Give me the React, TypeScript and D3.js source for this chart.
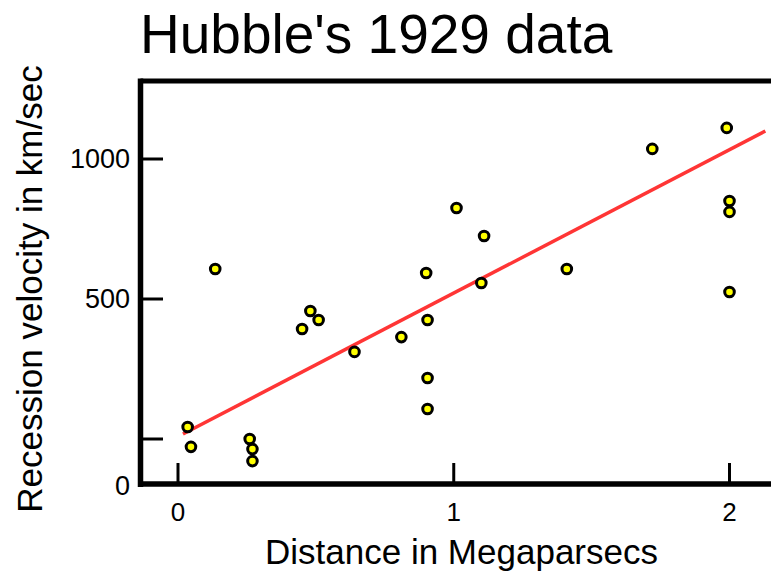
import * as d3 from "d3";

// Hubble's 1929 data
const distances = [
  0.035, 0.047, 0.135, 0.26, 0.27, 0.27, 0.45, 0.48, 0.51, 0.64, 0.81, 0.9,
  0.905, 0.905, 0.905, 1.01, 1.11, 1.1, 1.41, 1.72, 1.99, 2.0, 2.0, 2.0,
];
const velocities = [
  43, -28, 607, 0, -36, -79, 393, 457, 425, 311, 364, 593, 425, 218, 107, 825,
  725, 557, 607, 1036, 1111, 850, 811, 525,
];

// least squares line, drawn as the two end points
const fitX = [0.018, 2.13];
const fitY = [18, 1100];

const yTickValues = [0, 500, 1000];
const yTickLabels = ["", "500", "1000"];
const xTickValues = [0, 1, 2];

const width = 771;
const height = 572;
const left = 140.5;
const top = 81;
const bottom = 484;
const font = "'Liberation Sans', Arial, sans-serif";

const App = () => {
  const x = d3.scaleLinear().domain([0, 2]).range([178, 729.5]);
  const y = d3.scaleLinear().domain([0, 1000]).range([439, 159]);

  const line = d3
    .line<number>()
    .x((d) => x(d))
    .y((d, i) => y(fitY[i]));

  return (
    <div style={{ position: "absolute", left: 0, top: 0 }}>
      <svg width={width} height={height} style={{ display: "block", background: "#fff" }}>
        <text x={140} y={53} fontFamily={font} fontSize={55} fill="#000">
          Hubble's 1929 data
        </text>

        {/* frame */}
        <line x1={left} x2={width} y1={top} y2={top} stroke="#000" strokeWidth={5} />
        <line x1={left} x2={left} y1={top - 2.5} y2={bottom + 3} stroke="#000" strokeWidth={5.5} />
        <line x1={left - 2.5} x2={width} y1={bottom} y2={bottom} stroke="#000" strokeWidth={5.5} />

        {/* y ticks */}
        {yTickValues.map((v, i) => (
          <g key={"y" + v}>
            <line x1={left} x2={163} y1={y(v)} y2={y(v)} stroke="#000" strokeWidth={3} />
            <text
              x={130}
              y={y(v)}
              dy="0.35em"
              textAnchor="end"
              fontFamily={font}
              fontSize={27}
            >
              {yTickLabels[i]}
            </text>
          </g>
        ))}
        <text x={130} y={bottom + 2} dy="0.35em" textAnchor="end" fontFamily={font} fontSize={27}>
          0
        </text>

        {/* x ticks */}
        {xTickValues.map((v) => (
          <g key={"x" + v}>
            <line x1={x(v)} x2={x(v)} y1={463} y2={bottom} stroke="#000" strokeWidth={3} />
            <text x={x(v)} y={521} textAnchor="middle" fontFamily={font} fontSize={26}>
              {v}
            </text>
          </g>
        ))}

        <text x={265} y={564} fontFamily={font} fontSize={35}>
          Distance in Megaparsecs
        </text>
        <text
          transform="translate(42,289) rotate(-90)"
          textAnchor="middle"
          fontFamily={font}
          fontSize={35}
        >
          Recession velocity in km/sec
        </text>

        <path d={line(fitX) ?? ""} fill="none" stroke="#ff3535" strokeWidth={3.5} />

        {distances.map((d, i) => (
          <circle
            key={i}
            cx={x(d)}
            cy={y(velocities[i])}
            r={4.8}
            fill="#ffff00"
            stroke="#000"
            strokeWidth={3}
          />
        ))}
      </svg>
    </div>
  );
};

export default App;
